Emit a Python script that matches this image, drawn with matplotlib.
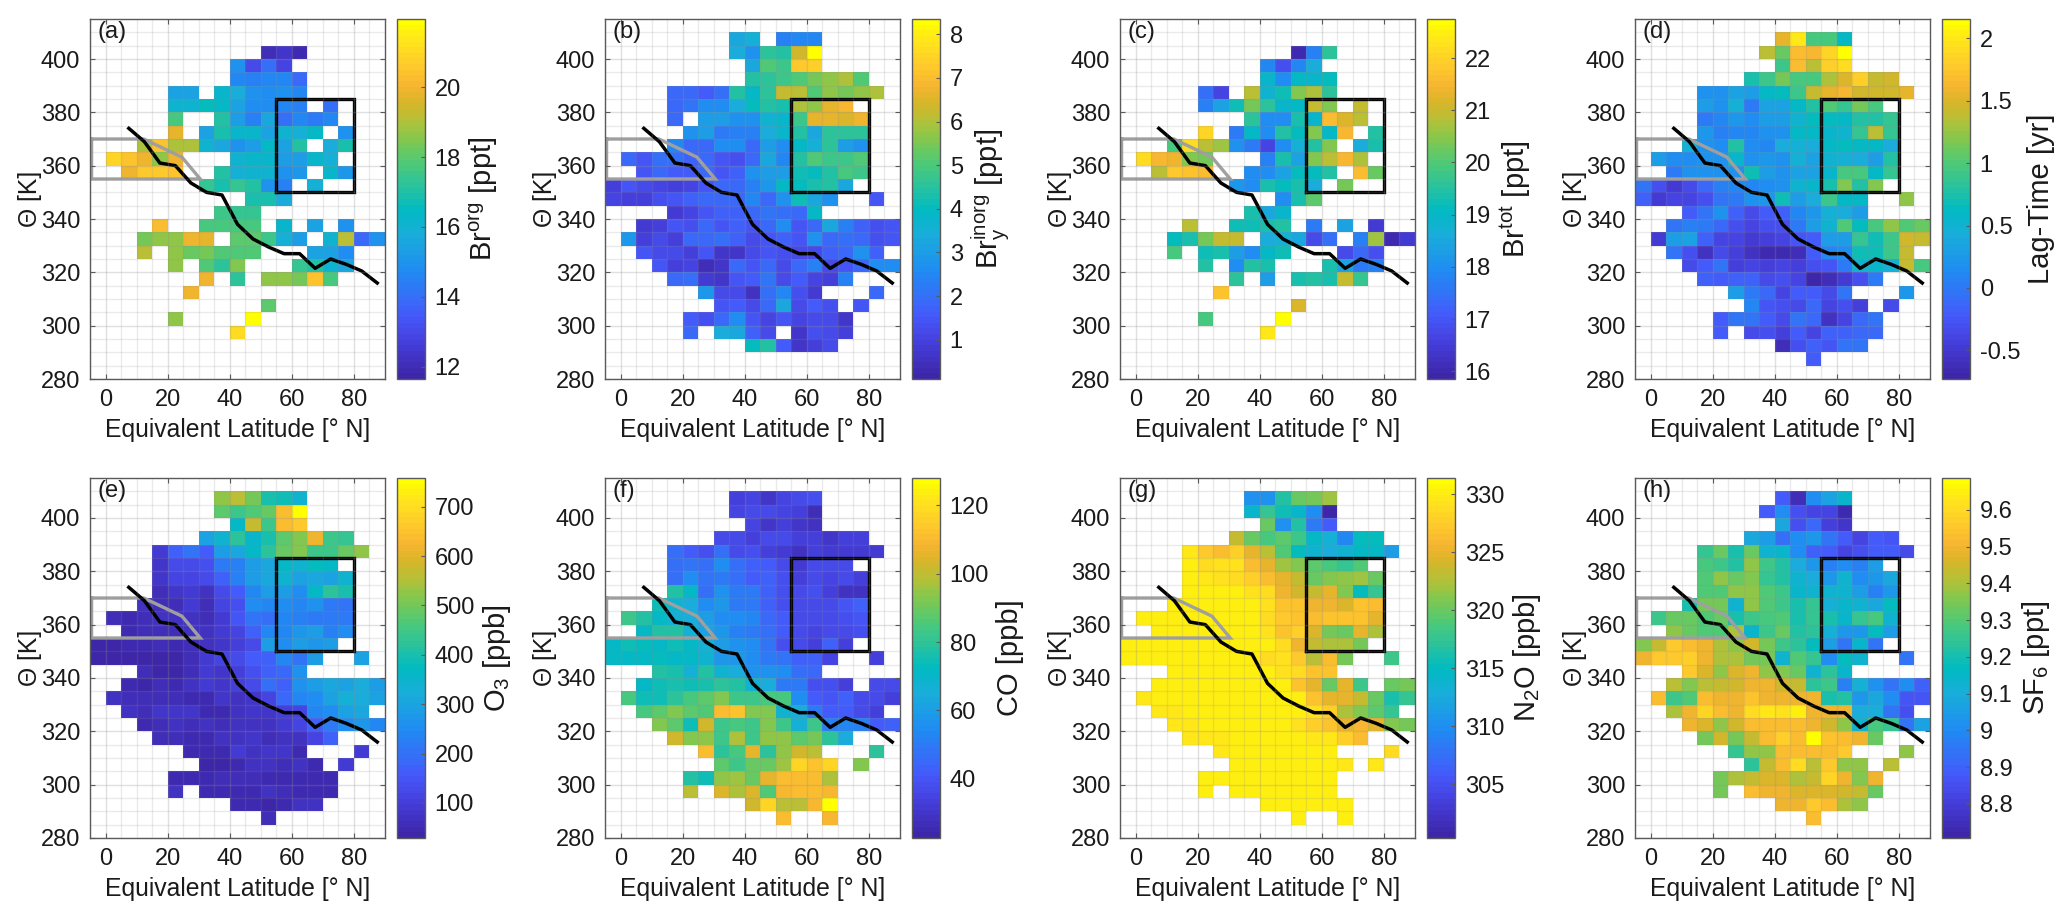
#mapas de trazadores en coordenadas lat. equivalente / theta

import numpy as np
import matplotlib
matplotlib.use("Agg")
import matplotlib.pyplot as plt
from matplotlib.colors import LinearSegmentedColormap

plt.rcParams['font.family'] = ['Liberation Sans', 'DejaVu Sans']
plt.rcParams['mathtext.fontset'] = 'custom'
plt.rcParams['mathtext.rm'] = 'Liberation Sans'
plt.rcParams['mathtext.default'] = 'rm'

n = np.nan

lat_edges = np.arange(-5, 91, 5)
theta_edges = np.arange(280, 416, 5)

# tropopausa
tp_lat = [7.5, 12.5, 17.5, 22.5, 27.5, 32.5, 37.5, 42.5, 47.5, 52.5, 57.5, 62.5, 67.5, 72.5, 77.5, 82.5, 87.5]
tp_theta = [374, 369, 361, 360, 353.5, 350, 349, 338, 332.5, 329.5, 327, 327, 321.5, 325, 323, 320.5, 316]

gray_lat = [-4.5, 12.3, 24.6, 30.5, -4.5, -4.5]
gray_theta = [370, 370, 363.2, 355, 355, 370]
box_lat = [55, 80, 80, 55, 55]
box_theta = [350, 350, 385, 385, 350]

# cada fila: (theta centro, primera columna, valores)
br_org = [
    (402.5, 11, [12.0, 12.3, 11.9]),
    (397.5, 9, [14.9, 13.0, 14.0, 12.8]),
    (392.5, 9, [14.7, 14.5, 14.6, 14.7, 13.9]),
    (387.5, 5, [15.5, 15.4, n, 16.2, 15.7, 15.0, 14.8, 14.9, 14.6]),
    (382.5, 5, [16.0, 16.1, 16.5, 16.4, 15.5, 14.8, 14.8, 14.7, 14.5, n, 14.0]),
    (377.5, 5, [17.7, n, n, 17.1, 15.3, 14.5, 15.6, 14.0, 14.6, 14.3, 14.6]),
    (372.5, 5, [19.7, n, 15.4, 16.9, 16.3, 16.2, 15.4, 16.0, 15.9, 16.4, n, 14.9]),
    (367.5, 3, [19.0, 20.4, 19.0, 18.9, 16.0, 15.6, 14.9, 15.2, 16.4, 15.5, 17.0, n, 15.8, 16.9]),
    (362.5, 1, [20.9, 20.5, 20.0, 18.7, 19.9, n, n, n, 16.1, 16.3, 16.2, 15.2, 15.3, 16.3, 15.9]),
    (357.5, 2, [20.0, 20.6, 20.6, 20.5, n, n, 17.1, 15.9, 16.0, 16.1, 14.9, 15.1, n, 16.2, 15.1]),
    (352.5, 7, [17.4, 16.9, 17.3, 17.0, 15.0, 14.4, n, 15.9]),
    (347.5, 10, [16.8, 16.8, 15.8]),
    (342.5, 8, [17.5, 17.4, 17.3]),
    (337.5, 4, [20.2, n, n, 17.7, 17.7, 17.7, 17.7, n, 16.3, n, 15.5, n, 14.9]),
    (332.5, 3, [18.3, 18.6, 18.7, 19.9, 19.7, n, 18.0, 18.0, 17.5, 15.9, 15.2, n, 16.0, 19.1, 13.9, 15.0]),
    (327.5, 3, [19.2, n, 18.6, 18.2, 18.4, 17.9, 17.9, 17.8, n, n, n, 15.4, 15.4, 14.8]),
    (322.5, 5, [18.7, n, 17.9, 17.2, 18.5, n, n, n, 17.4, 17.0, 16.1, 15.6]),
    (317.5, 7, [19.9, n, 17.2, n, 18.6, 18.7, 18.4, 20.4, 17.7]),
    (312.5, 6, [20.0]),
    (307.5, 11, [18.0]),
    (302.5, 5, [18.6, n, n, n, n, 21.9]),
    (297.5, 9, [21.0]),
]

bry_inorg = [
    (407.5, 8, [3.2, 3.5, n, 2.4, 2.5, 2.5]),
    (402.5, 8, [3.4, 2.8, 4.5, 4.4, 6.4, 8.3]),
    (397.5, 9, [3.2, 5.0, 4.8, 7.2, 7.4]),
    (392.5, 9, [4.4, 4.5, 4.8, 5.0, 5.5, 5.7, 6.0, 5.0]),
    (387.5, 4, [1.8, 1.9, 1.6, 2.0, 4.4, 3.9, 4.6, 6.2, 6.1, 5.1, 5.7, 5.5, 5.7, 6.0]),
    (382.5, 4, [1.9, 2.1, 2.6, 2.6, 3.4, 4.0, 4.4, 4.3, 6.0, 5.7, 6.6, 6.9]),
    (377.5, 4, [1.9, n, 3.0, 3.0, 2.7, 2.8, 3.7, 3.8, 4.8, 6.6, 6.6, 6.5, 6.7]),
    (372.5, 5, [2.8, 3.0, 2.2, 2.4, 2.3, 3.4, 3.8, 4.4, 3.2, 4.6, 4.6, 4.6]),
    (367.5, 4, [2.5, 1.8, 1.9, 2.6, 2.6, 1.9, 3.0, 2.6, 3.9, 3.5, 4.5, 3.0, 2.8]),
    (362.5, 1, [1.8, 1.5, 2.0, 2.0, 1.7, 1.9, 1.4, 1.3, 1.9, 3.3, 2.5, 4.4, 5.0, 4.8, 4.8, 5.0]),
    (357.5, 2, [1.4, 1.8, 1.6, 1.6, 1.9, 1.5, 1.7, 2.7, 3.0, 3.0, 4.2, 4.0, 4.4, 4.9, 4.8]),
    (352.5, 0, [1.0, 1.4, 1.2, 1.1, 1.0, 1.1, 1.5, 1.8, 1.9, 2.4, 2.9, 3.9, 4.0, 4.3, 4.4, 3.2]),
    (347.5, 0, [1.1, 0.9, 1.0, 1.3, 1.5, 1.7, 1.9, 1.9, 1.8, 2.5, 1.9, 2.7, 4.2, 3.2, 2.7, n, n, 1.4]),
    (342.5, 4, [0.8, 1.1, 1.5, 1.7, 1.7, 1.8, 2.1, 2.0, 1.9, 3.9]),
    (337.5, 2, [0.8, 0.9, 1.4, 1.3, 1.9, 1.5, 1.7, 1.5, 1.9, 2.6, 1.5, 1.9, 3.3, 2.4, 1.7, 1.3, 1.5]),
    (332.5, 1, [2.9, 1.0, 1.2, 1.0, 1.8, 1.8, 2.0, 1.7, 1.2, 1.4, 1.7, 1.5, 2.8, 1.8, 2.0, 1.9, 1.3, 1.5]),
    (327.5, 2, [1.5, 1.2, 1.2, 1.0, 1.5, 0.7, 0.7, 1.2, 1.4, 1.3, 1.2, 1.2, 1.7, 1.9, 2.7, 1.7]),
    (322.5, 3, [1.4, 1.0, 1.1, 0.4, 0.7, 1.8, 1.5, 1.9, 1.2, 1.9, 2.3, 1.2, 1.5, 1.8, 2.6, 2.6]),
    (317.5, 4, [1.8, 2.0, 0.8, 0.7, 1.4, 1.6, 2.1, 1.2, 1.6, 1.1, 1.0, 2.3]),
    (312.5, 6, [2.9, 1.2, 1.2, 0.5, 2.0, 2.5, 1.3, 0.8, n, n, n, 1.8]),
    (307.5, 7, [1.5, 1.6, 1.2, 1.9, 3.2, 1.2, 1.6, 1.3, n, 1.5]),
    (302.5, 5, [1.6, 1.3, 1.9, 2.6, 1.4, 1.1, 1.5, 1.1, 1.2, 1.2, 0.7]),
    (297.5, 5, [1.8, n, 3.4, 3.2, 1.7, 1.2, n, 0.7, 1.3, 1.2, 1.0]),
    (292.5, 9, [4.0, 4.4, 1.6, 0.7, 0.9, 1.2]),
]

br_tot = [
    (402.5, 11, [16.0, 17.7, 19.6]),
    (397.5, 9, [17.8, 16.9, 17.8, 18.6]),
    (392.5, 9, [18.9, 18.0, 19.0, 18.9, 19.1]),
    (387.5, 5, [17.4, 16.7, n, 20.9, 18.8, 19.2, 20.4, 20.8, 19.6]),
    (382.5, 5, [17.7, 18.4, 19.2, 20.3, 19.6, 18.9, 19.0, 21.0, 20.4, n, 21.0]),
    (377.5, 8, [19.6, 17.9, 18.0, 19.3, 18.9, 21.6, 21.2, 20.9]),
    (372.5, 5, [22.1, n, 17.6, 19.0, 18.0, 19.5, 19.1, 20.4, 19.0, 21.5, n, 19.5]),
    (367.5, 3, [19.9, 22.2, 20.9, 20.6, 18.1, 17.6, 16.7, 17.9, 18.7, 19.5, 20.4, n, 18.6, 19.4]),
    (362.5, 1, [22.2, 21.5, 21.4, 20.4, 20.3, n, n, n, 17.7, 19.3, 18.4, 20.4, 20.9, 21.5, 20.8]),
    (357.5, 2, [20.9, 21.8, 21.7, 21.6, n, n, 18.0, 18.0, 18.4, 19.1, 19.1, 19.5, n, 21.6, 20.2]),
    (352.5, 7, [18.2, 18.0, 19.3, 19.1, 19.3, 18.6, n, 20.3]),
    (347.5, 10, [17.9, 19.4, 20.1]),
    (342.5, 8, [19.3, 18.5, 18.9]),
    (337.5, 4, [20.9, n, n, 19.2, 19.2, 19.4, 19.5, n, 17.6, n, 18.4, n, 16.4]),
    (332.5, 3, [19.1, 19.3, 20.3, 21.0, 21.0, n, 18.6, 18.7, 18.5, 16.8, 17.4, n, 17.7, 20.7, 16.0, 16.4]),
    (327.5, 3, [19.9, n, 19.2, 19.4, 18.3, 18.0, 19.0, 19.2, n, n, n, 16.8, 17.3, 16.9]),
    (322.5, 5, [19.5, n, 17.9, 19.5, 19.4, n, n, n, 19.3, 18.4, 17.6, 17.7]),
    (317.5, 7, [19.6, n, 18.3, n, 19.4, 19.5, 19.3, 21.0, 19.7]),
    (312.5, 6, [21.7]),
    (307.5, 11, [21.2]),
    (302.5, 5, [19.9, n, n, n, n, 22.7]),
    (297.5, 9, [22.4]),
]

lag_time = [
    (407.5, 9, [1.55, 2.0, 0.95, 0.95, 0.6]),
    (402.5, 8, [1.35, 1.1, 1.7, 1.65, 1.85, 2.15]),
    (397.5, 9, [0.9, 1.7, 1.35, 1.8, 1.9]),
    (392.5, 7, [0.75, 0.9, 1.15, 0.95, 0.95, 1.3, 1.5, 1.8, 1.4, 1.45]),
    (387.5, 4, [0.2, 0.2, 0.35, 0.3, 0.6, 0.65, 0.9, 1.4, 1.55, 1.65, 1.45, 1.45, 1.45, 1.55]),
    (382.5, 4, [0.3, 0.2, 0.45, 0.0, 0.35, 0.35, 0.6, 0.8, 1.0, 0.85, 1.15, 0.95]),
    (377.5, 4, [0.0, 0.1, 0.25, 0.15, 0.3, 0.3, 0.5, 0.65, 0.65, 0.6, 0.8, 0.8, 0.85]),
    (372.5, 4, [0.25, 0.05, 0.1, 0.1, 0.2, 0.2, 0.6, 0.6, 0.55, 0.5, 0.85, 1.35, 0.85]),
    (367.5, 3, [0.45, 0.2, 0.15, 0.8, 0.15, 0.1, 0.4, 0.45, 0.4, 0.6, 0.65, 0.6, 0.6, 0.4]),
    (362.5, 1, [0.3, 0.15, 0.15, 0.2, 0.2, 0.55, 0.2, 0.25, 0.2, 0.45, 0.35, 0.5, 0.45, 0.4, 0.3, 0.8]),
    (357.5, 2, [0.0, 0.2, 0.2, 0.2, 0.2, 0.7, 0.3, 0.2, 0.35, 0.35, 0.55, 0.95, 0.95, 0.6, 0.85]),
    (352.5, 0, [-0.05, -0.3, -0.5, -0.35, -0.1, 0.05, 0.1, 0.1, 0.15, 0.2, 0.5, 0.55, 0.75, 1.2, 0.8, 1.2]),
    (347.5, 0, [-0.15, -0.5, -0.4, -0.4, -0.3, -0.05, 0.0, 0.2, 0.25, 0.7, 0.3, 0.4, 0.9, 0.6, 0.6, n, n, 1.25]),
    (342.5, 3, [-0.2, -0.05, 0.2, -0.15, -0.35, -0.2, -0.15, 0.1, 0.25, 0.45, 0.4, 0.3]),
    (337.5, 2, [-0.05, 0.05, 0.0, -0.1, -0.3, -0.4, -0.3, -0.3, 0.0, 0.3, 0.5, 1.0, 0.65, 0.95, 1.25, 1.0, 1.1]),
    (332.5, 1, [-0.5, 0.3, 0.35, -0.15, -0.4, -0.4, -0.5, -0.45, -0.4, -0.25, -0.2, 0.3, 0.3, 0.85, 0.7, 0.9, 1.45, 1.4]),
    (327.5, 2, [-0.05, -0.3, -0.55, -0.35, -0.45, -0.55, -0.65, -0.65, -0.6, -0.2, 0.1, 0.15, 0.7, 0.7, 0.9, 1.4]),
    (322.5, 3, [-0.35, -0.2, -0.05, -0.45, -0.4, -0.45, -0.4, -0.45, -0.3, -0.25, 0.0, 0.5, 0.55, 0.45, 1.4, 0.95]),
    (317.5, 4, [-0.15, -0.2, -0.15, -0.15, -0.35, -0.3, -0.4, -0.7, -0.6, -0.5, -0.3, 0.0]),
    (312.5, 6, [0.3, 0.0, -0.1, -0.4, -0.2, -0.2, -0.35, -0.05, n, n, n, 0.25]),
    (307.5, 7, [0.1, -0.25, -0.3, -0.35, -0.1, -0.4, -0.3, -0.45, n, -0.35]),
    (302.5, 5, [-0.2, -0.05, -0.05, -0.2, -0.35, -0.05, -0.1, -0.55, -0.4, -0.1, -0.05]),
    (297.5, 5, [-0.2, n, -0.35, -0.3, -0.45, -0.2, -0.4, -0.15, -0.15, -0.1, -0.1]),
    (292.5, 9, [-0.6, -0.3, -0.15, -0.25, -0.05, -0.05]),
    (287.5, 11, [-0.2]),
]

o3 = [
    (407.5, 8, [530, 560, 500, 400, 385, 345]),
    (402.5, 8, [480, 450, 470, 490, 640, 755]),
    (397.5, 9, [370, 570, 450, 640, 660]),
    (392.5, 7, [300, 340, 420, 350, 400, 480, 510, 610, 450, 430]),
    (387.5, 4, [90, 170, 200, 160, 280, 310, 370, 420, 490, 510, 450, 440, 490, 520]),
    (382.5, 4, [85, 125, 130, 140, 220, 230, 280, 310, 370, 340, 380, 360]),
    (377.5, 4, [80, 120, 110, 130, 170, 230, 280, 310, 340, 300, 310, 300, 340]),
    (372.5, 4, [60, 85, 90, 70, 130, 160, 240, 280, 290, 250, 360, 420, 400]),
    (367.5, 3, [70, 55, 60, 90, 60, 110, 140, 250, 240, 250, 240, 260, 220, 210]),
    (362.5, 1, [55, 50, 60, 65, 65, 65, 60, 95, 145, 200, 190, 240, 230, 220, 215, 215]),
    (357.5, 2, [50, 55, 60, 55, 70, 70, 90, 115, 170, 240, 240, 270, 280, 230, 250]),
    (352.5, 0, [40, 35, 50, 50, 55, 50, 60, 70, 80, 100, 125, 280, 250, 290, 270, 290]),
    (347.5, 0, [40, 35, 35, 35, 40, 40, 55, 90, 110, 125, 160, 170, 240, 200, 290, n, n, 300]),
    (342.5, 3, [60, 40, 40, 55, 90, 85, 100, 140, 170, 180, 260]),
    (337.5, 2, [50, 40, 55, 45, 70, 90, 85, 100, 130, 190, 170, 260, 280, 310, 300, 320, 290]),
    (332.5, 1, [65, 60, 60, 55, 55, 50, 50, 75, 70, 85, 115, 180, 240, 250, 300, 330, 320, 300]),
    (327.5, 2, [70, 60, 75, 80, 80, 50, 50, 70, 85, 75, 100, 120, 240, 250, 300, 310]),
    (322.5, 3, [50, 55, 70, 55, 65, 60, 70, 70, 70, 90, 110, 175, 215, 250, 270, 240]),
    (317.5, 4, [55, 60, 50, 45, 70, 65, 75, 60, 65, 70, 110, 170]),
    (312.5, 6, [50, 50, 45, 90, 70, 80, 80, 50, n, n, n, 90]),
    (307.5, 7, [40, 40, 50, 65, 65, 60, 70, 50, n, 95]),
    (302.5, 5, [45, 45, 50, 55, 60, 60, 50, 45, 50, 50, 45]),
    (297.5, 5, [65, n, 45, 45, 50, 45, 65, 60, 45, 45, 45]),
    (292.5, 9, [50, 50, 40, 50, 70, 65]),
    (287.5, 11, [55]),
]

co = [
    (407.5, 8, [34, 35, 30, 35, 37, 38]),
    (402.5, 8, [35, 36, 37, 35, 33, 27]),
    (397.5, 9, [35, 30, 34, 30, 28]),
    (392.5, 7, [36, 36, 33, 36, 36, 34, 34, 30, 33, 33]),
    (387.5, 4, [46, 42, 38, 47, 37, 39, 34, 32, 29, 33, 32, 32, 31, 31]),
    (382.5, 4, [47, 48, 47, 54, 47, 44, 42, 37, 32, 36, 36, 36]),
    (377.5, 4, [47, 55, 49, 50, 47, 42, 43, 38, 33, 36, 35, 36, 33]),
    (372.5, 4, [78, 72, 47, 56, 50, 50, 44, 39, 37, 38, 34, 28, 28]),
    (367.5, 3, [75, 68, 65, 55, 58, 50, 50, 44, 39, 37, 37, 37, 40, 43]),
    (362.5, 1, [83, 78, 72, 66, 64, 60, 55, 55, 53, 45, 42, 37, 37, 36, 38, 40]),
    (357.5, 2, [72, 78, 78, 67, 61, 58, 52, 50, 47, 42, 36, 35, 36, 36, 39]),
    (352.5, 0, [72, 74, 73, 72, 74, 72, 67, 60, 57, 55, 48, 38, 36, 34, 43, 34]),
    (347.5, 0, [72, 72, 72, 73, 72, 72, 68, 58, 58, 54, 50, 48, 44, 43, 35, n, n, 34]),
    (342.5, 3, [78, 76, 67, 78, 68, 65, 57, 56, 54, 46, 45]),
    (337.5, 2, [72, 74, 76, 75, 76, 80, 78, 68, 64, 50, 50, 38, 38, 33, n, 36, 37]),
    (332.5, 1, [85, 75, 75, 80, 85, 87, 92, 83, 82, 84, 84, 55, 42, 40, 43, 37, 36, 33]),
    (327.5, 2, [85, 87, 93, 88, 86, 110, 113, 92, 93, 68, 65, 50, 42, 42, 36, 34]),
    (322.5, 3, [93, 88, 74, 102, 83, 84, 82, 92, 82, 66, 82, 52, 53, 52, 41, 44]),
    (317.5, 4, [102, 92, 94, 83, 97, 82, 95, 95, 88, 91, 80, 65]),
    (312.5, 6, [110, 80, 85, 105, 80, 95, 103, 100, n, n, n, 80]),
    (307.5, 7, [88, 83, 90, 90, 96, 118, 112, 118, n, 92]),
    (302.5, 5, [78, 74, 95, 96, 90, 105, 110, 110, 110, 98]),
    (297.5, 5, [100, n, 104, 97, 104, 86, 109, 111, 110, 109]),
    (292.5, 9, [103, 117, 100, 100, 109, 127]),
    (287.5, 11, [110, n, n, 109]),
]

n2o = [
    (407.5, 8, [310.5, 310.5, 316.5, 320, 320.5, 322]),
    (402.5, 8, [314.3, 317.5, 315.5, 314, 310, 300.5]),
    (397.5, 9, [320, 310.5, 316.5, 308.5, 306]),
    (392.5, 7, [323.5, 320, 318.5, 319.5, 318, 314.5, 313, 309.5, 315, 315]),
    (387.5, 4, [329.5, 327.5, 326.5, 328, 325, 323, 319, 315, 313.5, 312.5, 313.5, 314.5, 314.5, 311.5]),
    (382.5, 4, [330, 328.5, 329, 329, 326.5, 325, 322, 321, 319.5, 318.5, 317.5, 319]),
    (377.5, 4, [330, 329.5, 329, 328.5, 328, 326.5, 325, 323.5, 320, 321, 321.5, 322, 320]),
    (372.5, 4, [330, 330, 330, 330, 329, 328.5, 325.5, 324, 323.5, 325, 321, 315, 317.5]),
    (367.5, 3, [330.3, 330.3, 330, 330, 330, 330, 329, 327, 327, 325.5, 325.5, 324.5, 327, 326.5]),
    (362.5, 1, [330.3, 330.3, 330.3, 330.3, 330, 330, 330, 330, 328.5, 327.5, 327, 326.5, 327, 327, 327, 325]),
    (357.5, 2, [330.3, 330.3, 330.3, 330, 330, 330, 330, 329, 327, 328, 324.5, 320.5, 320, 325, 322.5]),
    (352.5, 0, [330.3, 330.3, 330.3, 330.3, 330.3, 330.3, 330.3, 330.3, 330, 330, 328.5, 325.5, 323.5, 322.5, 322.5, 320.5]),
    (347.5, 0, [330.3, 330.3, 330.3, 330.3, 330.3, 330.3, 330.3, 330.3, 330.3, 328.5, 329, 327.5, 323, 326.5, 320.5, n, n, 318]),
    (342.5, 3, [330.3, 330.3, 330.3, 330.3, 330.3, 330.3, 330, 329, 328.5, 327, 327]),
    (337.5, 2, [330.3, 330.3, 330.3, 330.3, 330.3, 330.3, 330.3, 330.3, 330, 327, 325, 320, 325, 318, n, 320, 320.5]),
    (332.5, 1, [329.5, 330.3, 330.3, 330.3, 330.3, 330.3, 330.3, 330.3, 330.3, 330.3, 330, 327, 325, 325, 323.5, 320, 316, 317.5]),
    (327.5, 2, [329.7, 329.7, 330, 330.3, 330.3, 330.3, 330.3, 330.3, 330.3, 330, 329, 328, 322.5, 321, 319.5, 317.5]),
    (322.5, 3, [329.7, 329.5, 330, 330.3, 330.3, 330.3, 330.3, 330.3, 329, 328, 327, 325, 326, 325, 321, 320.5]),
    (317.5, 4, [329.5, 329.7, 329.7, 330.3, 330.3, 330.3, 330.3, 330, 329.7, 329.5, 328, 326.5]),
    (312.5, 6, [329.5, 330, 330, 330, 330, 330, 330, 330, n, n, n, 328.5]),
    (307.5, 7, [330.3, 330.3, 330.3, 330.3, 330.3, 330.3, 330.3, 329.5, n, 329.5]),
    (302.5, 5, [330, 330.3, 330.3, 330.3, 330.3, 330.3, 330.3, 330.3, 330.3]),
    (297.5, 5, [330.3, n, 330.3, 330.3, 330.3, 330.3, 330.3, 330.3, 330.3]),
    (292.5, 9, [330.3, 330.3, 330.3, 330.3, 330.3, 330.3]),
    (287.5, 11, [330, n, n, 330]),
]

sf6 = [
    (407.5, 9, [8.88, 8.74, 9.0, 9.07, 9.15]),
    (402.5, 8, [8.88, 9.0, 8.85, 8.82, 8.82, 8.73]),
    (397.5, 9, [9.08, 8.85, 8.92, 8.8, 8.77]),
    (392.5, 7, [9.08, 9.05, 8.93, 9.0, 9.03, 8.95, 8.88, 8.82, 8.88, 8.87]),
    (387.5, 4, [9.25, 9.32, 9.2, 9.33, 9.13, 9.15, 9.0, 8.9, 8.88, 8.82, 8.85, 8.88, 8.88, 8.84]),
    (382.5, 4, [9.28, 9.27, 9.22, 9.37, 9.27, 9.22, 9.1, 9.03, 8.97, 9.0, 8.97, 9.05]),
    (377.5, 4, [9.3, 9.37, 9.33, 9.36, 9.25, 9.22, 9.13, 9.1, 9.03, 9.13, 9.0, 9.03, 9.08]),
    (372.5, 4, [9.3, 9.3, 9.37, 9.37, 9.3, 9.27, 9.15, 9.13, 9.13, 9.13, 9.05, 8.97, 9.03]),
    (367.5, 3, [9.2, 9.34, 9.34, 9.13, 9.37, 9.3, 9.27, 9.2, 9.25, 9.12, 9.15, 9.13, 9.08, 9.17]),
    (362.5, 1, [9.26, 9.32, 9.33, 9.3, 9.33, 9.2, 9.27, 9.28, 9.29, 9.2, 9.25, 9.2, 9.14, 9.25, 9.28, 9.13]),
    (357.5, 2, [9.38, 9.32, 9.3, 9.3, 9.4, 9.15, 9.27, 9.33, 9.22, 9.24, 9.12, 9.03, 9.03, 9.17, 9.05]),
    (352.5, 0, [9.36, 9.43, 9.56, 9.52, 9.5, 9.4, 9.38, 9.45, 9.35, 9.26, 9.23, 9.17, 9.05, 8.95, 9.15, 8.95]),
    (347.5, 0, [9.5, 9.55, 9.55, 9.57, 9.5, 9.4, 9.4, 9.35, 9.35, 9.13, 9.3, 9.25, 9.0, 9.17, 9.13, n, n, 8.95]),
    (342.5, 3, [9.55, 9.46, 9.38, 9.46, 9.5, 9.38, 9.36, 9.33, 9.13, 9.24, 9.15]),
    (337.5, 2, [9.42, 9.36, 9.42, 9.44, 9.45, 9.5, 9.5, 9.45, 9.43, 9.24, 9.26, 8.98, 9.12, 9.02, 8.95, 9.0, 8.9]),
    (332.5, 1, [9.53, 9.26, 9.3, 9.52, 9.5, 9.5, 9.54, 9.5, 9.5, 9.5, 9.5, 9.2, 9.22, 9.03, 9.08, 9.0, 8.87, 8.87]),
    (327.5, 2, [9.4, 9.5, 9.58, 9.52, 9.5, 9.6, 9.63, 9.62, 9.65, 9.5, 9.5, 9.5, 9.1, 9.1, 8.95, 8.85]),
    (322.5, 3, [9.5, 9.46, 9.38, 9.45, 9.52, 9.52, 9.52, 9.52, 9.5, 9.45, 9.38, 9.13, 9.28, 9.25, 8.95, 9.07]),
    (317.5, 4, [9.35, 9.45, 9.35, 9.44, 9.53, 9.57, 9.52, 9.68, 9.54, 9.53, 9.5, 9.33]),
    (312.5, 6, [9.25, 9.38, 9.38, 9.52, 9.52, 9.52, 9.52, 9.55, n, n, n, 9.38]),
    (307.5, 7, [9.24, 9.44, 9.52, 9.6, 9.42, 9.55, 9.38, 9.37, n, 9.42]),
    (302.5, 5, [9.35, 9.4, 9.44, 9.47, 9.46, 9.4, 9.44, 9.58, 9.5, 9.36, 9.5]),
    (297.5, 5, [9.35, n, 9.52, 9.5, 9.5, 9.46, 9.46, 9.46, 9.45, 9.43, 9.33]),
    (292.5, 9, [9.5, 9.5, 9.55, 9.52, 9.4, 9.38]),
    (287.5, 11, [9.52]),
]

panel_data = [br_org, bry_inorg, br_tot, lag_time, o3, co, n2o, sf6]
panel_names = ['(a)', '(b)', '(c)', '(d)', '(e)', '(f)', '(g)', '(h)']
cb_labels = [r'Br$^{org}$ [ppt]', r'Br$_{y}^{inorg}$ [ppt]', r'Br$^{tot}$ [ppt]', 'Lag-Time [yr]',
             r'O$_{3}$ [ppb]', 'CO [ppb]', r'N$_{2}$O [ppb]', r'SF$_{6}$ [ppt]']
cb_lims = [(11.65, 21.95), (0.1, 8.35), (15.85, 22.75), (-0.73, 2.155),
           (29, 758), (22.7, 128), (300.35, 331.4), (8.707, 9.687)]
cb_ticks = [[12, 14, 16, 18, 20],
            [1, 2, 3, 4, 5, 6, 7, 8],
            [16, 17, 18, 19, 20, 21, 22],
            [-0.5, 0, 0.5, 1, 1.5, 2],
            [100, 200, 300, 400, 500, 600, 700],
            [40, 60, 80, 100, 120],
            [305, 310, 315, 320, 325, 330],
            [8.8, 8.9, 9, 9.1, 9.2, 9.3, 9.4, 9.5, 9.6]]
cb_ticklabels = [None, None, None,
                 ['-0.5', '0', '0.5', '1', '1.5', '2'],
                 None, None, None,
                 ['8.8', '8.9', '9', '9.1', '9.2', '9.3', '9.4', '9.5', '9.6']]

parula = LinearSegmentedColormap.from_list('parula', [
    (0.00, (0.24, 0.15, 0.66)), (0.10, (0.27, 0.25, 0.87)), (0.17, (0.27, 0.35, 0.98)),
    (0.30, (0.12, 0.55, 0.95)), (0.40, (0.10, 0.68, 0.85)), (0.47, (0.00, 0.73, 0.76)),
    (0.53, (0.15, 0.76, 0.63)), (0.60, (0.30, 0.79, 0.47)), (0.67, (0.52, 0.78, 0.30)),
    (0.72, (0.70, 0.76, 0.22)), (0.77, (0.84, 0.71, 0.16)), (0.82, (0.97, 0.71, 0.19)),
    (0.88, (1.00, 0.80, 0.17)), (0.95, (1.00, 0.90, 0.10)), (1.00, (1.00, 1.00, 0.00))], N=64)


def build_grid(rows):
    grid = np.full((len(theta_edges) - 1, len(lat_edges) - 1), np.nan)
    for theta, first, vals in rows:
        i = int((theta - 280) // 5)
        grid[i, first:first + len(vals)] = vals
    return np.ma.masked_invalid(grid)


W, H = 2067, 922
fig = plt.figure(figsize=(W / 100, H / 100), dpi=100)
lefts = [90, 605, 1120, 1635]
tops = [19, 478]
edge = '#5a5a5a'

for k in range(8):
    x0 = lefts[k % 4]
    y0 = tops[k // 4]
    ax = fig.add_axes([x0 / W, 1 - (y0 + 360) / H, 295 / W, 360 / H])
    vmin, vmax = cb_lims[k]
    mesh = ax.pcolormesh(lat_edges, theta_edges, build_grid(panel_data[k]), cmap=parula, vmin=vmin, vmax=vmax)

    ax.plot(gray_lat, gray_theta, color='#a0a0a0', lw=2.4, solid_joinstyle='miter')
    ax.plot(tp_lat, tp_theta, color='k', lw=2.5)
    ax.plot(box_lat, box_theta, color='k', lw=2.4, solid_joinstyle='miter')

    ax.set_xlim(-5, 90)
    ax.set_ylim(280, 415)
    ax.set_xticks([0, 20, 40, 60, 80])
    ax.set_yticks([280, 300, 320, 340, 360, 380, 400])
    ax.set_xticks(np.arange(-5, 90, 5), minor=True)
    ax.set_yticks(np.arange(285, 415, 5), minor=True)
    ax.tick_params(which='major', direction='in', length=3.5, width=0.8, top=True, right=True,
                   labelsize=17, color=edge, labelcolor='#1a1a1a', pad=7)
    ax.tick_params(which='minor', length=0)
    ax.grid(which='major', color='#909090', alpha=0.28, lw=1)
    ax.grid(which='minor', color='#909090', alpha=0.18, lw=1)
    ax.set_axisbelow(False)
    for sp in ax.spines.values():
        sp.set_color(edge)
        sp.set_linewidth(1)
        sp.set_zorder(5)
    ax.set_xlabel('Equivalent Latitude [° N]', fontsize=17.8, color='#1a1a1a', labelpad=5)
    ax.set_ylabel('Θ [K]', fontsize=17.8, color='#1a1a1a', labelpad=-1)
    ax.text(-2.5, 410, panel_names[k], fontsize=17, color='#1a1a1a', va='center', ha='left')

    cax = fig.add_axes([(x0 + 307) / W, 1 - (y0 + 360) / H, 28 / W, 360 / H])
    cb = fig.colorbar(mesh, cax=cax)
    cb.set_ticks(cb_ticks[k])
    if cb_ticklabels[k]:
        cb.set_ticklabels(cb_ticklabels[k])
    cb.ax.tick_params(direction='in', length=3, width=0.8, labelsize=17, color=edge, labelcolor='#1a1a1a', pad=7)
    cb.ax.minorticks_off()
    cb.outline.set_edgecolor(edge)
    cb.outline.set_linewidth(1)
    cb.set_label(cb_labels[k], fontsize=21, color='#1a1a1a', labelpad=5)

fig.savefig('out.png', dpi=100)
